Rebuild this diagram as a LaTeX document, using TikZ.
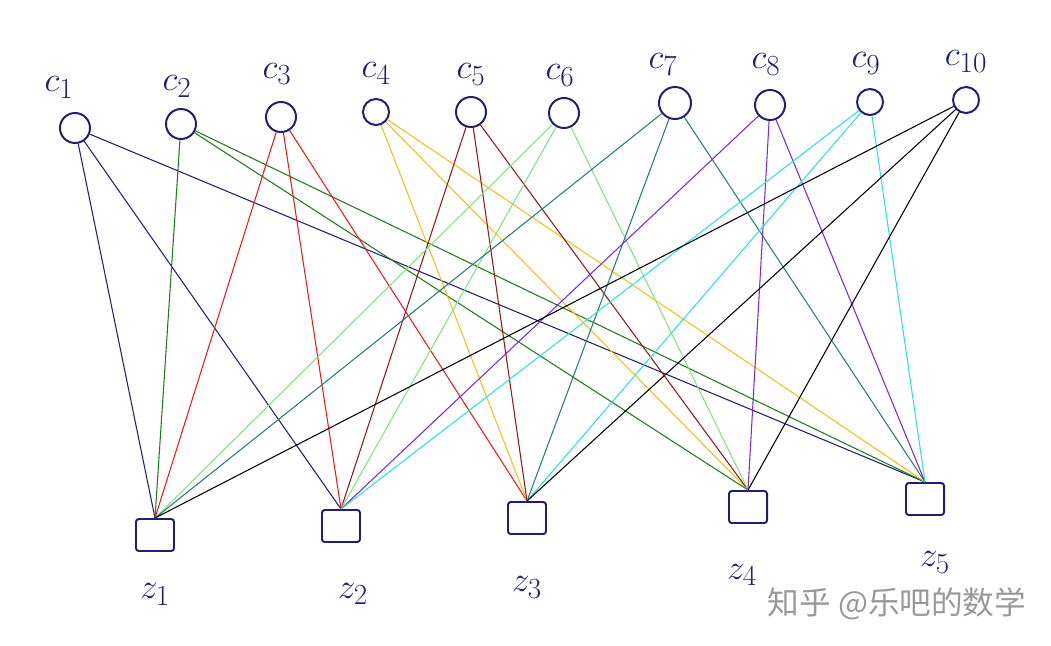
\documentclass[tikz,border=0pt]{standalone}
\usepackage{fontspec}
\usepackage{amsmath}
\usepackage{tikz}
\newfontfamily\cjk{Noto Sans CJK SC}
\definecolor{ink}{HTML}{1F1F6E}
\definecolor{egreen}{HTML}{1E7A1E}
\definecolor{ered}{HTML}{E02020}
\definecolor{egold}{HTML}{F0C020}
\definecolor{ebrown}{HTML}{8B1A1A}
\definecolor{elight}{HTML}{85E085}
\definecolor{eteal}{HTML}{2A7A7A}
\definecolor{epurple}{HTML}{7A2AD0}
\definecolor{ecyan}{HTML}{30E0E0}

\begin{document}
\begin{tikzpicture}[x=0.025cm, y=-0.025cm,
    cnode/.style={shape=circle, draw=ink, line width=1.4pt, minimum size=0.75cm, inner sep=0pt},
    znode/.style={shape=rectangle, rounded corners=2pt, draw=ink, line width=1.4pt, minimum width=0.95cm, minimum height=0.8cm, inner sep=0pt},
    lbl/.style={text=ink, font=\fontsize{31}{36}\selectfont},
    edge/.style={line width=0.75pt}]

                    \useasboundingbox (0,0) rectangle (1051,645);

                    \node[cnode, label={[lbl, label distance=6pt, xshift=-0.4cm]above:$c_1$}] (c1) at (75,128) {};
                    \node[cnode, label={[lbl, label distance=4pt, xshift=-0.1cm]above:$c_2$}] (c2) at (181,124) {};
                    \node[cnode, label={[lbl, label distance=8pt, xshift=-0.1cm]above:$c_3$}] (c3) at (281,117) {};
                    \node[cnode, minimum size=0.65cm, label={[lbl, label distance=6pt]above:$c_4$}] (c4) at (376,112) {};
                    \node[cnode, label={[lbl, label distance=4pt]above:$c_5$}] (c5) at (471,112) {};
                    \node[cnode, label={[lbl, label distance=4pt, xshift=-0.1cm]above:$c_6$}] (c6) at (564,113) {};
                    \node[cnode, minimum size=0.8cm, label={[lbl, label distance=4pt, xshift=-0.3cm]above:$c_7$}] (c7) at (675,103) {};
                    \node[cnode, label={[lbl, label distance=6pt, xshift=-0.1cm]above:$c_8$}] (c8) at (770,105) {};
                    \node[cnode, minimum size=0.65cm, label={[lbl, label distance=6pt, xshift=-0.1cm]above:$c_9$}] (c9) at (870,102) {};
                    \node[cnode, minimum size=0.65cm, label={[lbl, label distance=6pt]above:$c_{10}$}] (c10) at (966,100) {};

                    \node[znode, label={[lbl, label distance=19pt]below:$z_1$}] (z1) at (155,535) {};
                    \node[znode, label={[lbl, label distance=25pt, xshift=0.3cm]below:$z_2$}] (z2) at (341,526) {};
                    \node[znode, label={[lbl, label distance=26pt]below:$z_3$}] (z3) at (527,518) {};
                    \node[znode, label={[lbl, label distance=25pt, xshift=-0.15cm]below:$z_4$}] (z4) at (748,507) {};
                    \node[znode, label={[lbl, label distance=22pt, xshift=0.25cm]below:$z_5$}] (z5) at (925,499) {};

                    \draw[edge, ink] (c1) -- (z1.north) (c1) -- (z2.north) (c1) -- (z5.north);
                    \draw[edge, egreen] (c2) -- (z1.north) (c2) -- (z4.north) (c2) -- (z5.north);
                    \draw[edge, ered] (c3) -- (z1.north) (c3) -- (z2.north) (c3) -- (z3.north);
                    \draw[edge, egold] (c4) -- (z3.north) (c4) -- (z4.north) (c4) -- (z5.north);
                    \draw[edge, ebrown] (c5) -- (z2.north) (c5) -- (z3.north) (c5) -- (z4.north);
                    \draw[edge, elight] (c6) -- (z1.north) (c6) -- (z2.north) (c6) -- (z4.north);
                    \draw[edge, eteal] (c7) -- (z1.north) (c7) -- (z3.north) (c7) -- (z5.north);
                    \draw[edge, epurple] (c8) -- (z2.north) (c8) -- (z4.north) (c8) -- (z5.north);
                    \draw[edge, ecyan] (c9) -- (z2.north) (c9) -- (z3.north) (c9) -- (z5.north);
                    \draw[edge, black] (c10) -- (z1.north) (c10) -- (z3.north) (c10) -- (z4.north);

                    \node[text=black!40, font=\cjk\fontsize{22.5}{26}\selectfont] (mark) at (897,604) {知乎 @乐吧的数学};

                \end{tikzpicture}
\end{document}
